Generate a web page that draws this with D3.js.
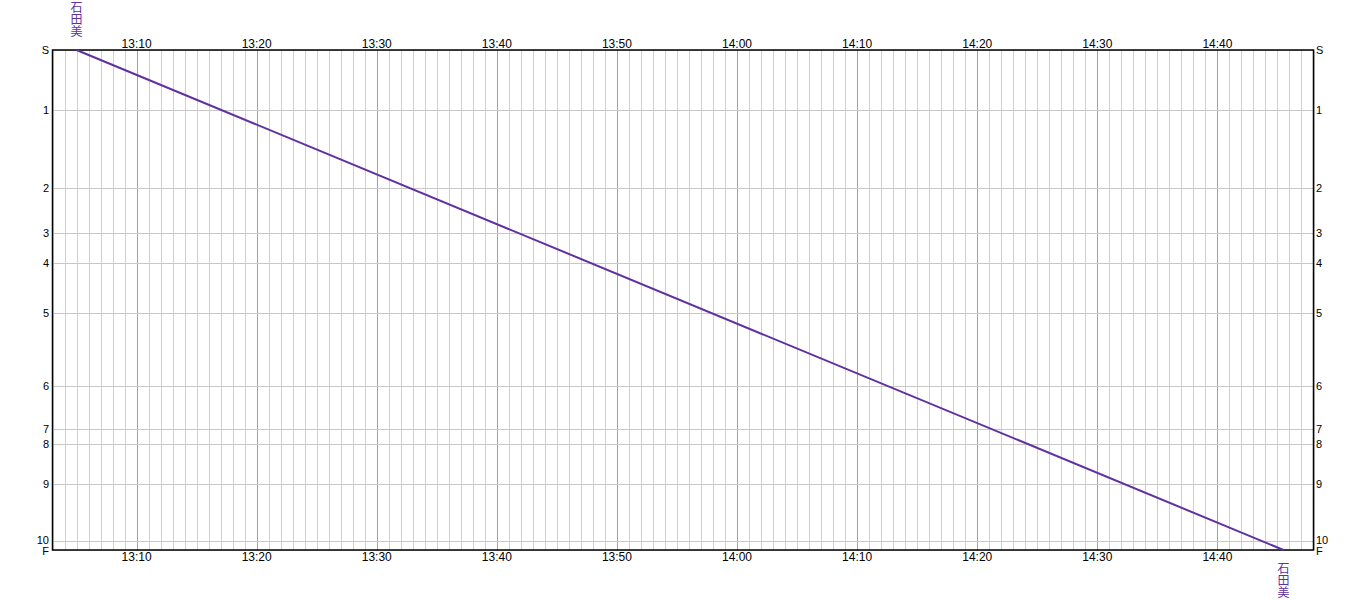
<!DOCTYPE html>
<html>
<head>
<meta charset="utf-8">
<script src="https://cdn.jsdelivr.net/npm/d3@7"></script>
<style>
body { margin: 0; background: #fff; }
text { font-family: "Liberation Sans Narrow", "Liberation Sans", "Noto Sans CJK JP", sans-serif; font-size: 12px; }
</style>
</head>
<body>
<script>
var stations = ["S", "1", "2", "3", "4", "5", "6", "7", "8", "9", "10", "F"];
var distances = [0, 60, 138, 183, 213, 263, 336, 379, 394, 434, 491, 500];
var trainName = "石田美";
var trainTimes = ["13:05:00", "14:45:30"];
var trainStops = ["S", "F"];
var startTime = "13:03", endTime = "14:48";

var parse = d3.timeParse("%H:%M:%S");
var t0 = d3.timeParse("%H:%M")(startTime), t1 = d3.timeParse("%H:%M")(endTime);

var svg = d3.select("body").append("svg")
    .attr("width", 1366)
    .attr("height", 600);

var x = d3.scaleTime().domain([t0, t1]).range([52.5, 1313.5]);
var y = d3.scaleLinear().domain([0, 500]).range([50, 550]);
var distOf = {};
stations.forEach(function(s, i){ distOf[s] = distances[i]; });

// minute grid
var minutes = d3.timeMinute.range(t0, d3.timeMinute.offset(t1, 1));
svg.append("g").selectAll("line")
    .data(minutes)
    .enter()
    .append("line")
    .attr("x1", function(d){ return Math.round(x(d)) + 0.5; })
    .attr("x2", function(d){ return Math.round(x(d)) + 0.5; })
    .attr("y1", y(0))
    .attr("y2", y(500))
    .attr("stroke", function(d){ return d.getMinutes() % 10 === 0 ? "#a0a0a0" : "#d0d0d0"; })
    .attr("stroke-width", 1);

// station grid
svg.append("g").selectAll("line")
    .data(distances)
    .enter()
    .append("line")
    .attr("x1", x(t0))
    .attr("x2", x(t1))
    .attr("y1", function(d){ return Math.round(y(d)) + 0.5; })
    .attr("y2", function(d){ return Math.round(y(d)) + 0.5; })
    .attr("stroke", "#c8c8c8");

// frame
svg.append("rect")
    .attr("x", x(t0))
    .attr("y", y(0))
    .attr("width", x(t1) - x(t0))
    .attr("height", y(500) - y(0))
    .attr("fill", "none")
    .attr("stroke", "black")
    .attr("stroke-width", 1.5);

// time labels
var tens = minutes.filter(function(d){ return d.getMinutes() % 10 === 0; });
var fmt = d3.timeFormat("%H:%M");
[44, 557].forEach(function(ty){
    svg.append("g").selectAll("text")
        .data(tens)
        .enter()
        .append("text")
        .text(fmt)
        .attr("x", function(d){ return x(d); })
        .attr("y", ty)
        .attr("text-anchor", "middle")
        .attr("dominant-baseline", "central")
        .attr("fill", "black");
});

// station labels, both sides
[[49, "end"], [1316, "start"]].forEach(function(side){
    svg.append("g").selectAll("text")
        .data(stations)
        .enter()
        .append("text")
        .text(function(d){ return d; })
        .attr("x", side[0])
        .attr("y", function(d){
            var v = y(distOf[d]);
            if (d === "10") v -= 1;
            if (d === "F") v += 1;
            return v;
        })
        .attr("text-anchor", side[1])
        .attr("dominant-baseline", "central")
        .style("font-size", "11px");
});

// train line
var pts = trainTimes.map(function(t, i){ return [x(parse(t)), y(distOf[trainStops[i]])]; });
svg.append("path")
    .attr("d", d3.line()(pts))
    .attr("fill", "none")
    .attr("stroke", "#6030a0")
    .attr("stroke-width", 2);

// train name labels (vertical)
function vname(px, topY){
    svg.append("text")
        .text(trainName)
        .attr("x", px)
        .attr("y", topY)
        .style("writing-mode", "vertical-rl")
        .style("font-family", "Noto Sans CJK JP")
        .style("font-size", "12px")
        .attr("fill", "#6030a0");
}
vname(pts[0][0], 1);
vname(pts[1][0], 562);
</script>
</body>
</html>
